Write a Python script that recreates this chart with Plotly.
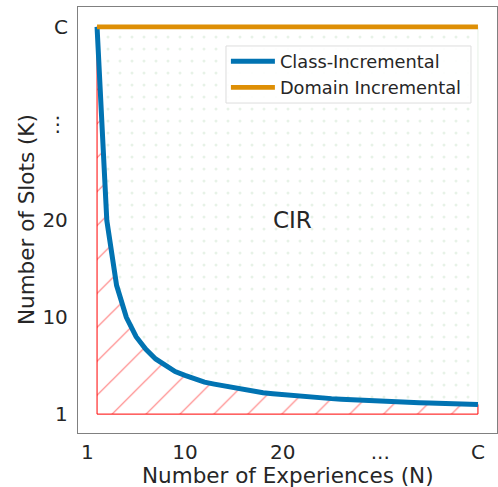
import plotly.graph_objects as go

# ---- data ----
experiences = list(range(1, 41))  # N positions (1 .. C)
class_incremental_slots = [40.0, 20.0, 13.3, 10.0, 8.0, 6.7, 5.7, 5.0, 4.4, 4.0,
                           3.6, 3.3, 3.1, 2.9, 2.7, 2.5, 2.35, 2.2, 2.1, 2.0,
                           1.9, 1.82, 1.74, 1.67, 1.6, 1.54, 1.48, 1.43, 1.38, 1.33,
                           1.29, 1.25, 1.21, 1.18, 1.14, 1.11, 1.08, 1.05, 1.03, 1.0]
domain_incremental_slots = [40.0] * 40
floor_value = 0.0

x_tick_vals = [0, 10, 20, 30, 40]
x_tick_text = ["1", "10", "20", "...", "C"]
y_tick_vals = [0, 10, 20, 30, 40]
y_tick_text = ["1", "10", "20", "⋮", "C"]

BLUE = "#0173b2"
ORANGE = "#de8f05"
TEXT = "#262626"
FONT = "DejaVu Sans"

fig = go.Figure()

# dotted region above the class-incremental curve (CIR)
dot_x = experiences + experiences[::-1]
dot_y = class_incremental_slots + domain_incremental_slots[::-1]
fig.add_trace(go.Scatter(
    x=dot_x, y=dot_y, mode="lines", fill="toself",
    line=dict(color="#e6f1e6", width=1),
    fillcolor="rgba(0,0,0,0)",
    fillpattern=dict(shape=".", fgcolor="#cfe5cf", bgcolor="rgba(0,0,0,0)",
                     size=12, solidity=0.05, fillmode="overlay"),
    showlegend=False, hoverinfo="skip"))

# hatched region below the curve
hx = [experiences[0]] + experiences + [experiences[-1], experiences[0]]
hy = [floor_value] + class_incremental_slots + [floor_value, floor_value]
fig.add_trace(go.Scatter(
    x=hx, y=hy, mode="lines", fill="toself",
    line=dict(color="red", width=1),
    fillcolor="rgba(0,0,0,0)",
    fillpattern=dict(shape="/", fgcolor="#ff0000", bgcolor="rgba(0,0,0,0)",
                     size=24, solidity=0.05, fillmode="overlay"),
    showlegend=False, hoverinfo="skip"))

fig.add_trace(go.Scatter(
    x=experiences, y=class_incremental_slots, mode="lines",
    name="Class-Incremental", legendgroup="a",
    line=dict(color=BLUE, width=5)))
fig.add_trace(go.Scatter(
    x=experiences, y=domain_incremental_slots, mode="lines",
    name="Domain Incremental", legendgroup="b",
    line=dict(color=ORANGE, width=4.6)))

fig.add_annotation(x=21, y=20, text="CIR", showarrow=False,
                   font=dict(family=FONT, size=23, color=TEXT))

# axis titles
fig.add_annotation(xref="paper", yref="paper", x=0.5, y=-0.1,
                   xanchor="center", yanchor="middle", showarrow=False,
                   text="Number of Experiences (N)",
                   font=dict(family=FONT, size=21.5, color=TEXT))
fig.add_annotation(xref="paper", yref="paper", x=-0.124, y=0.5,
                   xanchor="center", yanchor="middle", showarrow=False, textangle=-90,
                   text="Number of Slots (K)",
                   font=dict(family=FONT, size=21.5, color=TEXT))

# legend frame
fig.add_shape(type="rect", xref="paper", yref="paper", layer="above",
              x0=0.3532, x1=0.9379, y0=0.7746, y1=0.9085,
              line=dict(color="#dddddd", width=1), fillcolor="rgba(255,255,255,0.92)")

axis_common = dict(showgrid=False, zeroline=False, showline=True, mirror=True,
                   linecolor="#808080", linewidth=1.3, ticks="", automargin=False,
                   tickfont=dict(family=FONT, size=20, color=TEXT))

fig.update_xaxes(range=[-0.95, 41.95], tickvals=x_tick_vals, ticktext=x_tick_text,
                 ticklabelstandoff=1, **axis_common)
fig.update_yaxes(range=[-1.95, 42.05], tickvals=y_tick_vals, ticktext=y_tick_text,
                 ticklabelstandoff=5, **axis_common)

fig.update_layout(
    width=498, height=487,
    margin=dict(l=78, r=1, t=7, b=54),
    paper_bgcolor="white", plot_bgcolor="white",
    font=dict(family=FONT, color=TEXT),
    legend=dict(x=0.353, y=0.915, xanchor="left", yanchor="top",
                bgcolor="rgba(0,0,0,0)", borderwidth=0,
                font=dict(family=FONT, size=17.8, color=TEXT),
                tracegroupgap=0, itemwidth=44),
)

fig.write_html("out.html", config={"displayModeBar": False},
               post_script="document.body.style.margin='0';")
